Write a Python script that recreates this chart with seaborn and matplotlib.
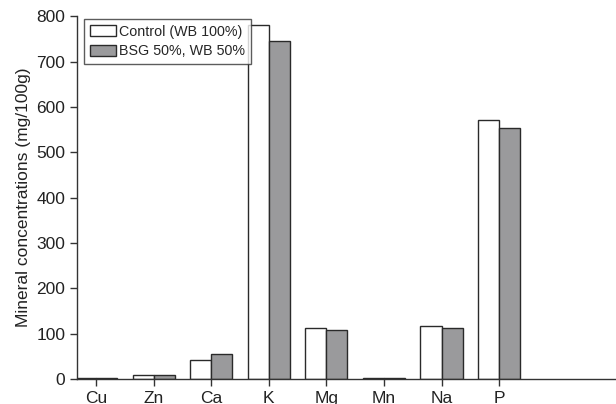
import matplotlib
matplotlib.use("Agg")
import matplotlib.pyplot as plt
import seaborn as sns
import pandas as pd

minerals = ["Cu", "Zn", "Ca", "K", "Mg", "Mn", "Na", "P"]
control = [1.5, 9, 42, 781, 112, 1.5, 117, 570]
bsg = [1.5, 8, 56, 746, 108, 1.5, 112, 554]
series = ["Control (WB 100%)", "BSG 50%, WB 50%"]

df = pd.DataFrame({
    "Mineral": minerals * 2,
    "Value": control + bsg,
    "Group": [series[0]] * len(minerals) + [series[1]] * len(minerals),
})

sns.set_style("ticks")
plt.rcParams["font.family"] = ["Liberation Sans", "DejaVu Sans"]

fig = plt.figure(figsize=(6.16, 4.04), dpi=100)
ax = fig.add_axes([0.125, 0.062, 0.875, 0.898])

sns.barplot(data=df, x="Mineral", y="Value", hue="Group", order=minerals,
            hue_order=series, palette=["white", "#9a9a9c"], width=0.73,
            edgecolor="#2a2a2a", linewidth=1.0, ax=ax, errorbar=None)

ax.set_xlim(-0.33, 9.03)
ax.set_ylim(0, 800)
ax.set_yticks(range(0, 801, 100))
ax.set_xlabel("")
ax.set_ylabel("Mineral concentrations (mg/100g)", fontsize=12.5, color="#222222")
ax.tick_params(axis="both", labelsize=12.5, length=5, width=1, direction="out",
               color="#333333", labelcolor="#222222", bottom=True, left=True)
for s in ["top", "right"]:
    ax.spines[s].set_visible(False)
for s in ["left", "bottom"]:
    ax.spines[s].set_color("#333333")
    ax.spines[s].set_linewidth(1)

leg = ax.legend(loc="upper left", bbox_to_anchor=(0.005, 1.004), fontsize=10.3,
                frameon=True, fancybox=False, edgecolor="#333333",
                handlelength=1.85, handleheight=0.8, handletextpad=0.2,
                borderpad=0.4, labelspacing=0.4, borderaxespad=0.3)
leg.get_frame().set_linewidth(1)

fig.savefig("out.png", dpi=100)
